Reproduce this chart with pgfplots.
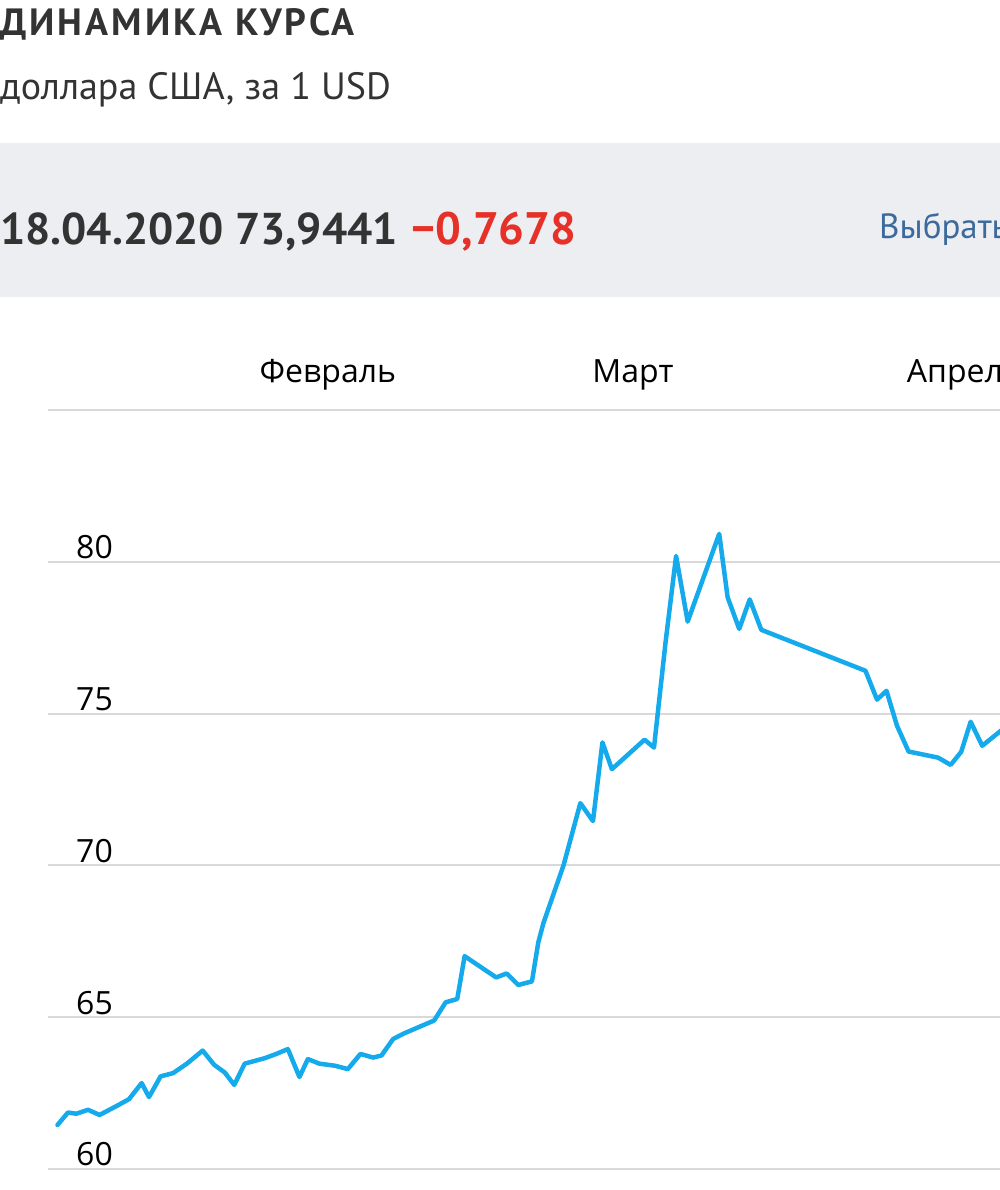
\documentclass[border=0pt]{standalone}
\usepackage{fontspec}
\setmainfont{PT Sans}
\newfontfamily\titlefont{PT Sans}[LetterSpace=8]
\newfontfamily\osans{Open Sans}
\usepackage{pgfplots}
\pgfplotsset{compat=1.18}
\definecolor{lineblue}{HTML}{14AAEB}
\definecolor{gridgray}{HTML}{D9D9D9}
\definecolor{band}{HTML}{EDEEF2}
\definecolor{txt}{HTML}{333333}
\definecolor{negred}{HTML}{E53127}
\definecolor{linkblue}{HTML}{3D6A9C}
\begin{document}
\begin{tikzpicture}[x=1pt,y=1pt]
\useasboundingbox (0,0) rectangle (1000,1190);
\clip (0,0) rectangle (1000,1190);
\fill[band] (0,893) rectangle (1000,1047);
\node[anchor=base west, inner sep=0, text=txt] at (0,1154.5) {\titlefont\bfseries\fontsize{38}{38}\selectfont ДИНАМИКА КУРСА};
\node[anchor=base west, inner sep=0, text=txt] at (0,1090) {\fontsize{38}{38}\selectfont доллара США, за 1 USD};
\node[anchor=base west, inner sep=0, text=txt] at (0,945) {\bfseries\fontsize{44.5}{44.5}\selectfont 18.04.2020 73,9441\hspace{14pt}\textcolor{negred}{\fontsize{45.5}{45.5}\selectfont −0,7678}};
\node[anchor=base west, inner sep=0, text=linkblue] at (879,951) {\fontsize{35}{35}\selectfont Выбрать дату};
\begin{axis}[
  at={(48pt,21pt)}, anchor=south west,
  scale only axis, width=952pt, height=759pt,
  xmin=0, xmax=90.49, ymin=60, ymax=85,
  axis line style={draw=none},
  tick style={draw=none},
  ymajorgrids=true,
  major grid style={draw=gridgray, line width=2pt},
  ytick={60,65,70,75,80,85},
  yticklabels={60,65,70,75,80,{}},
  yticklabel style={font=\osans\fontsize{32}{32}\selectfont, text=black, anchor=base west, xshift=28pt, yshift=3pt, inner sep=0pt},
  xtick={26.6,55.6,87.1},
  xticklabels={Февраль,Март,Апрель},
  xticklabel pos=upper,
  xticklabel style={font=\osans\fontsize{32}{32}\selectfont, text=black, anchor=base, yshift=27pt, inner sep=0pt},
  clip=true,
]
\addplot[draw=lineblue, line width=4.5pt, line join=round, line cap=round] coordinates {
(0.9,61.45) (1.9,61.86) (2.7,61.82) (3.8,61.95) (4.9,61.78) (6.6,62.09) (7.7,62.30)
(8.9,62.83) (9.6,62.37) (10.7,63.05) (11.9,63.16) (13.2,63.47) (14.7,63.90) (15.8,63.43)
(16.8,63.18) (17.7,62.77) (18.7,63.47) (20.6,63.65) (21.7,63.79) (22.8,63.95) (23.9,63.03)
(24.7,63.62) (25.8,63.47) (27.3,63.40) (28.5,63.29) (29.7,63.79) (30.9,63.67) (31.7,63.74)
(32.8,64.28) (33.8,64.46) (36.7,64.89) (37.8,65.49) (38.9,65.60) (39.6,67.01) (42.6,66.31)
(43.6,66.44) (44.7,66.06) (46.0,66.18) (46.6,67.46) (47.1,68.11) (49.0,70.00) (50.6,72.05)
(51.8,71.46) (52.7,74.05) (53.6,73.17) (56.7,74.14) (57.6,73.88) (58.7,77.35) (59.7,80.19)
(60.8,78.03) (63.8,80.92) (64.6,78.83) (65.7,77.79) (66.7,78.76) (67.8,77.76) (77.7,76.41)
(78.8,75.46) (79.7,75.75) (80.7,74.60) (81.8,73.75) (84.6,73.55) (85.8,73.31) (86.8,73.74)
(87.7,74.73) (88.8,73.94) (90.8,74.50)
};
\end{axis}
\end{tikzpicture}
\end{document}
